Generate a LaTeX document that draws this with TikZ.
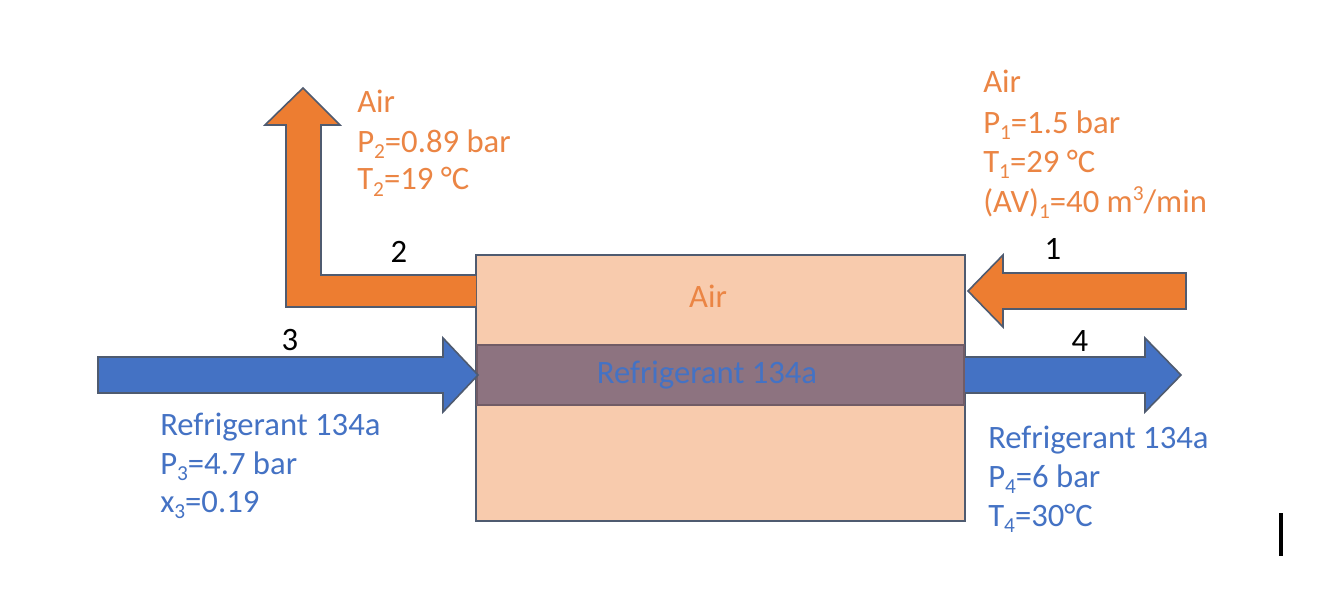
\documentclass[tikz,border=0pt]{standalone}
\usepackage{fontspec}
\setmainfont{Carlito}
\definecolor{airor}{HTML}{ED7D31}
\definecolor{airtext}{HTML}{EB8544}
\definecolor{refbl}{HTML}{4472C4}
\definecolor{peach}{HTML}{F8CBAD}
\definecolor{mauve}{HTML}{8D7380}
\definecolor{edge}{HTML}{4F5B70}
\newcommand{\lsub}[1]{\raisebox{-0.42ex}{\fontsize{16}{16}\selectfont #1}}
\newcommand{\lsup}[1]{\raisebox{0.75ex}{\fontsize{16}{16}\selectfont #1}}
\begin{document}
\begin{tikzpicture}[x=0.75pt,y=-0.75pt,
  lbl/.style={anchor=base west,inner sep=0pt,font=\fontsize{24.5}{29}\selectfont},
  num/.style={anchor=base,inner sep=0pt,font=\fontsize{24.5}{29}\selectfont,text=black},
  airtxt/.style={lbl,text=airtext},
  reftxt/.style={lbl,text=refbl},
  flowshape/.style={draw=edge,line width=1.2pt,line join=miter}]
\useasboundingbox[fill=white] (0,0) rectangle (1344,606);
% heat exchanger
\path[fill=peach,draw=edge,line width=1.5pt] (476,255) rectangle (965,521);
\path[fill=mauve,draw=mauve!80!black,line width=1pt] (477,345) rectangle (964,405);
% orange L outlet (2)
\path[flowshape,fill=airor] (476,275) -- (321,275) -- (321,125) -- (340,125) -- (303,88) -- (265,125) -- (286,125) -- (286,307) -- (476,307);
% orange inlet (1)
\path[flowshape,fill=airor] (1186,273) -- (1003,273) -- (1003,255) -- (968,291) -- (1003,327) -- (1003,309) -- (1186,309) -- cycle;
% blue inlet (3)
\path[flowshape,fill=refbl] (98,357) -- (443,357) -- (443,338) -- (478,375) -- (443,412) -- (443,393) -- (98,393) -- cycle;
% blue outlet (4)
\path[flowshape,fill=refbl] (965,357) -- (1145,357) -- (1145,338) -- (1181,375) -- (1145,412) -- (1145,393) -- (965,393);
% labels
\node[airtxt] (a2a) at (357,113) {Air};
\node[airtxt] (a2b) at (357,152) {P\lsub{2}=0.89 bar};
\node[airtxt] (a2c) at (357,190) {T\lsub{2}=19 °C};
\node[airtxt] (a1a) at (983,93) {Air};
\node[airtxt] (a1b) at (983,133) {P\lsub{1}=1.5 bar};
\node[airtxt] (a1c) at (983,172) {T\lsub{1}=29 °C};
\node[airtxt] (a1d) at (983,212) {(AV)\lsub{1}=40 m\lsup{3}/min};
\node[airtxt,anchor=base] (boxair) at (708,307) {Air};
\node[reftxt,anchor=base] (bandref) at (707,383) {Refrigerant 134a};
\node[reftxt] (r3a) at (160,435) {Refrigerant 134a};
\node[reftxt] (r3b) at (160,474) {P\lsub{3}=4.7 bar};
\node[reftxt] (r3c) at (160,512) {x\lsub{3}=0.19};
\node[reftxt] (r4a) at (988,448) {Refrigerant 134a};
\node[reftxt] (r4b) at (988,487) {P\lsub{4}=6 bar};
\node[reftxt] (r4c) at (988,526) {T\lsub{4}=30°C};
\node[num] (n2) at (399,262) {2};
\node[num] (n1) at (1053,259) {1};
\node[num] (n3) at (290,350) {3};
\node[num] (n4) at (1080,351) {4};
% cursor bar
\draw[line width=2.4pt,black] (1281,513) -- (1281,556);
\end{tikzpicture}
\end{document}
